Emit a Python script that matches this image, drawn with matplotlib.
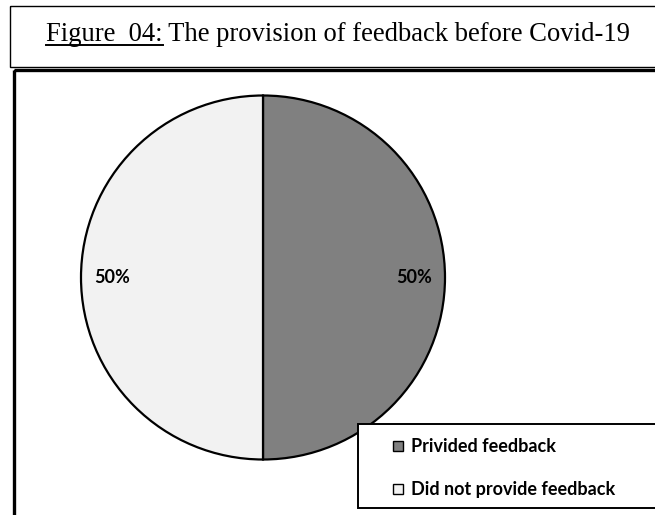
import matplotlib
matplotlib.use("Agg")
import matplotlib.pyplot as plt
from matplotlib.patches import Rectangle
from matplotlib.lines import Line2D

# Data
categories = ["Privided feedback", "Did not provide feedback"]
shares = [50, 50]
slice_colors = ["#808080", "#f2f2f2"]
title_label = "Figure  04:"
title_rest = " The provision of feedback before Covid-19"

W, H = 655, 515
DPI = 100
fig = plt.figure(figsize=(W / DPI, H / DPI), dpi=DPI)
fig.patch.set_facecolor("white")

# Background canvas in pixel coordinates (y down)
bg = fig.add_axes([0, 0, 1, 1])
bg.set_xlim(0, W)
bg.set_ylim(H, 0)
bg.axis("off")

# Title frame and chart frame
bg.add_patch(Rectangle((10, 6), 700, 61, fill=False, lw=1.0, ec="black"))
bg.add_patch(Rectangle((13.5, 69.5), 700, 500, fill=False, lw=2.4, ec="black"))

serif = "Liberation Serif"
title_fs = 19.15
t1 = bg.text(46, 41, title_label, fontsize=title_fs, family=serif,
             ha="left", va="baseline", color="black")
fig.canvas.draw()
renderer = fig.canvas.get_renderer()
bb = t1.get_window_extent(renderer)
x_end = bb.x1  # pixels from left
bg.text(x_end, 41, title_rest, fontsize=title_fs, family=serif,
        ha="left", va="baseline", color="black")
bg.add_line(Line2D([46, x_end], [44.5, 44.5], lw=1.4, color="black"))

# Pie axes: square box around the pie
cx, cy, r = 263, 277.5, 182
ax = fig.add_axes([(cx - r) / W, (H - (cy + r)) / H, 2 * r / W, 2 * r / H])
wedges, texts, autotexts = ax.pie(
    shares, colors=slice_colors, startangle=90, counterclock=False,
    autopct=lambda p: f"{p:.0f}%", pctdistance=0.83,
    wedgeprops=dict(edgecolor="black", linewidth=1.6),
    textprops=dict(fontsize=13, fontweight="bold", family="Lato", color="black"),
)
for w in wedges:
    w.set_clip_on(False)
ax.set_xlim(-1, 1)
ax.set_ylim(-1, 1)

# Legend box
leg = fig.add_axes([0, 0, 1, 1], facecolor="none")
leg.set_xlim(0, W)
leg.set_ylim(H, 0)
leg.axis("off")
leg.add_patch(Rectangle((358, 424), 400, 84, fc="white", ec="black", lw=1.4))
rows_y = [446, 489]
for name, col, y in zip(categories, slice_colors, rows_y):
    leg.add_patch(Rectangle((393, y - 5), 10, 10, fc=col, ec="black", lw=1.0))
    leg.text(411, y, name, fontsize=13, fontweight="bold", family="Lato",
             ha="left", va="center", color="black")

fig.savefig("out.png", dpi=DPI, facecolor="white")
